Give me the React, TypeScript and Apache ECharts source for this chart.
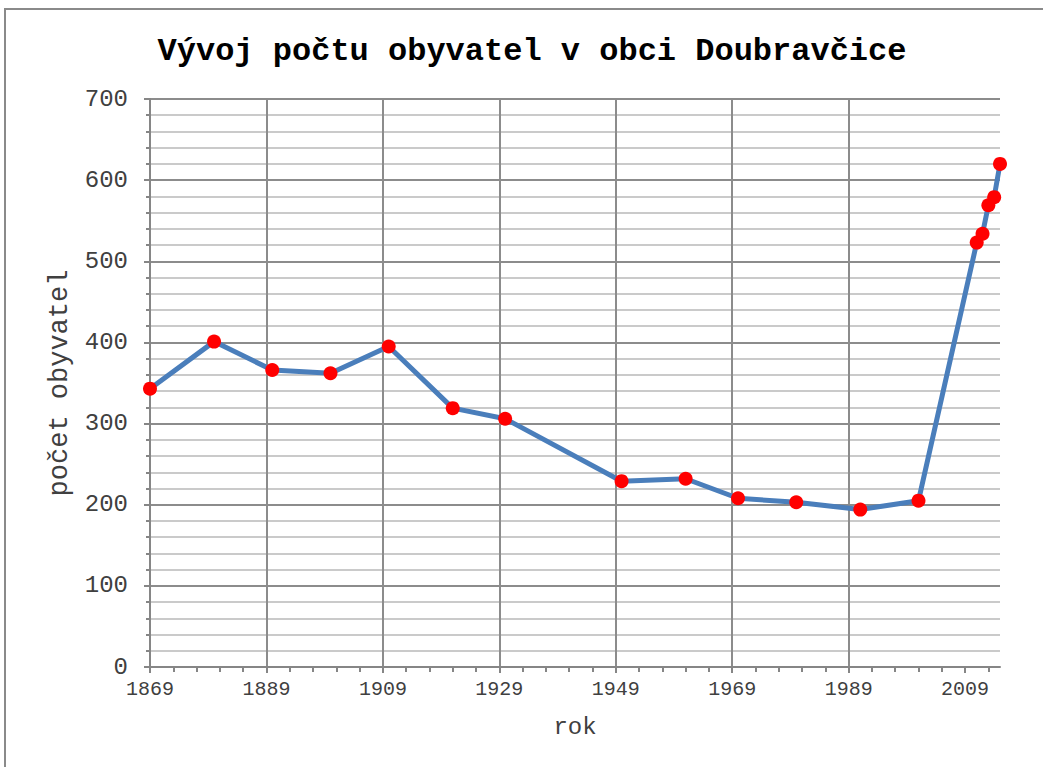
import React, { useEffect, useRef } from "react";
import * as echarts from "echarts";

const BASE_YEAR = 1869;
const END_YEAR = 2015;
const years = [1869, 1880, 1890, 1900, 1910, 1921, 1930, 1950, 1961, 1970, 1980, 1991, 2001, 2011, 2012, 2013, 2014, 2015];
const population = [343, 401, 366, 362, 395, 319, 306, 229, 232, 208, 203, 194, 205, 523, 534, 569, 579, 620];
const majorTickYears = [1869, 1889, 1909, 1929, 1949, 1969, 1989, 2009];
const minorTickYears = [1873, 1877, 1881, 1885, 1893, 1897, 1901, 1905, 1913, 1917, 1921, 1925, 1933, 1937, 1941, 1945, 1953, 1957, 1961, 1965, 1973, 1977, 1981, 1985, 1993, 1997, 2001, 2005, 2013];
const yTicks = [0, 100, 200, 300, 400, 500, 600, 700];

const FONT = "'Liberation Mono', 'Courier New', monospace";

export default function App() {
  const ref = useRef<HTMLDivElement>(null);
  useEffect(() => {
    if (!ref.current) return;
    const chart = echarts.init(ref.current, null, { renderer: "svg" });
    const off = (y: number) => y - BASE_YEAR;
    const axisGray = "#868686";
    chart.setOption({
      animation: false,
      backgroundColor: "#ffffff",
      title: {
        text: "Vývoj počtu obyvatel v obci Doubravčice",
        left: 527,
        top: 30,
        textAlign: "center",
        textStyle: { fontFamily: FONT, fontSize: 32, fontWeight: "bold", color: "#000000" },
      },
      graphic: [
        {
          type: "rect",
          shape: { x: 5, y: 9, width: 1200, height: 900 },
          style: { fill: "none", stroke: "#8a8a8a", lineWidth: 2 },
          silent: true,
        },
      ],
      grid: { left: 150, right: 43, top: 99, bottom: 100, containLabel: false },
      xAxis: [
        {
          type: "value",
          min: 0,
          max: off(END_YEAR),
          interval: 20,
          name: "rok",
          nameLocation: "middle",
          nameGap: 48,
          nameTextStyle: { fontFamily: FONT, fontSize: 24, color: "#404040" },
          axisLine: { show: true, onZero: false, lineStyle: { color: axisGray, width: 2 } },
          axisTick: {
            show: true,
            length: 6,
            customValues: majorTickYears.map(off),
            lineStyle: { color: axisGray, width: 2 },
          },
          axisLabel: {
            customValues: majorTickYears.map(off),
            formatter: (v: number) => String(v + BASE_YEAR),
            fontFamily: FONT,
            fontSize: 20,
            color: "#404040",
            margin: 12,
          },
          splitLine: {
            show: true,
            showMinLine: false,
            showMaxLine: false,
            lineStyle: { color: "#8c8c8c", width: 2 },
          },
        },
        {
          type: "value",
          position: "bottom",
          min: 0,
          max: off(END_YEAR),
          interval: 4,
          axisLine: { show: false },
          axisTick: {
            show: true,
            length: 5,
            customValues: minorTickYears.map(off),
            lineStyle: { color: axisGray, width: 2 },
          },
          axisLabel: { show: false },
          splitLine: { show: false },
        },
      ],
      yAxis: {
        type: "value",
        min: yTicks[0],
        max: yTicks[yTicks.length - 1],
        interval: 100,
        name: "počet obyvatel",
        nameLocation: "middle",
        nameRotate: 90,
        nameGap: 77,
        nameTextStyle: { fontFamily: FONT, fontSize: 27, color: "#404040" },
        axisLine: { show: true, lineStyle: { color: axisGray, width: 2 } },
        axisTick: { show: true, length: 6, lineStyle: { color: axisGray, width: 2 } },
        minorTick: { show: true, splitNumber: 5, length: 4, lineStyle: { color: axisGray, width: 2 } },
        axisLabel: { fontFamily: FONT, fontSize: 24, color: "#404040", margin: 22 },
        splitLine: { show: true, lineStyle: { color: "#8c8c8c", width: 2 } },
        minorSplitLine: { show: true, lineStyle: { color: "#b8b8b8", width: 1.5 } },
      },
      series: [
        {
          type: "line",
          xAxisIndex: 0,
          data: years.map((y, i) => [off(y), population[i]]),
          lineStyle: { color: "#4a7ebb", width: 5 },
          itemStyle: { color: "#ff0000", borderWidth: 0 },
          symbol: "circle",
          symbolSize: 14,
          showAllSymbol: true,
          clip: false,
          z: 5,
        },
      ],
    });
    return () => chart.dispose();
  }, []);
  return (
    <div
      ref={ref}
      style={{ position: "fixed", left: 0, top: 0, width: 1043, height: 767, background: "#fff" }}
    />
  );
}
